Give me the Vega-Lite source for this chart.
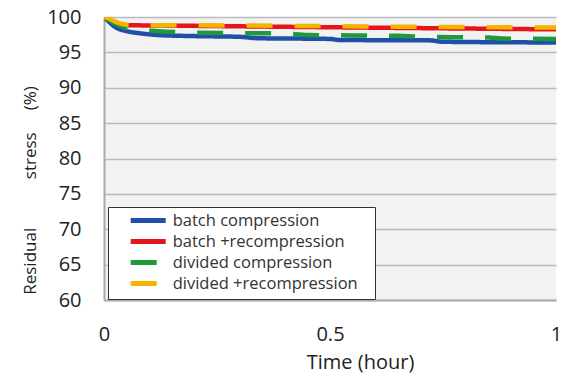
{
  "$schema": "https://vega.github.io/schema/vega-lite/v6.json",
  "width": 452,
  "height": 283,
  "autosize": {"type": "none"},
  "padding": {"left": 104, "top": 17, "right": 12, "bottom": 77},
  "background": "white",
  "config": {
    "view": {"fill": "#f2f2f2", "stroke": null},
    "font": "Open Sans",
    "axis": {"labelFont": "Open Sans", "titleFont": "Open Sans", "labelColor": "#222", "titleColor": "#222", "titleFontWeight": "normal"}
  },
  "data": {"values": [
    {"t": 0, "v": 100, "s": "batch compression"},
    {"t": 0.01, "v": 99.4, "s": "batch compression"},
    {"t": 0.02, "v": 98.8, "s": "batch compression"},
    {"t": 0.03, "v": 98.4, "s": "batch compression"},
    {"t": 0.05, "v": 98.0, "s": "batch compression"},
    {"t": 0.08, "v": 97.7, "s": "batch compression"},
    {"t": 0.12, "v": 97.45, "s": "batch compression"},
    {"t": 0.2, "v": 97.3, "s": "batch compression"},
    {"t": 0.3, "v": 97.2, "s": "batch compression"},
    {"t": 0.34, "v": 97.0, "s": "batch compression"},
    {"t": 0.5, "v": 96.9, "s": "batch compression"},
    {"t": 0.52, "v": 96.75, "s": "batch compression"},
    {"t": 0.72, "v": 96.7, "s": "batch compression"},
    {"t": 0.75, "v": 96.5, "s": "batch compression"},
    {"t": 1.0, "v": 96.4, "s": "batch compression"},
    {"t": 0, "v": 100, "s": "batch +recompression"},
    {"t": 0.01, "v": 99.7, "s": "batch +recompression"},
    {"t": 0.03, "v": 99.1, "s": "batch +recompression"},
    {"t": 0.05, "v": 98.85, "s": "batch +recompression"},
    {"t": 0.2, "v": 98.75, "s": "batch +recompression"},
    {"t": 0.5, "v": 98.55, "s": "batch +recompression"},
    {"t": 0.75, "v": 98.4, "s": "batch +recompression"},
    {"t": 1.0, "v": 98.25, "s": "batch +recompression"},
    {"t": 0, "v": 100, "s": "divided compression"},
    {"t": 0.01, "v": 99.6, "s": "divided compression"},
    {"t": 0.03, "v": 98.9, "s": "divided compression"},
    {"t": 0.06, "v": 98.3, "s": "divided compression"},
    {"t": 0.12, "v": 98.0, "s": "divided compression"},
    {"t": 0.2, "v": 97.8, "s": "divided compression"},
    {"t": 0.4, "v": 97.65, "s": "divided compression"},
    {"t": 0.45, "v": 97.45, "s": "divided compression"},
    {"t": 0.65, "v": 97.35, "s": "divided compression"},
    {"t": 0.7, "v": 97.2, "s": "divided compression"},
    {"t": 0.85, "v": 97.1, "s": "divided compression"},
    {"t": 0.88, "v": 96.95, "s": "divided compression"},
    {"t": 1.0, "v": 96.9, "s": "divided compression"},
    {"t": 0, "v": 100, "s": "divided +recompression"},
    {"t": 0.01, "v": 99.8, "s": "divided +recompression"},
    {"t": 0.03, "v": 99.2, "s": "divided +recompression"},
    {"t": 0.06, "v": 98.85, "s": "divided +recompression"},
    {"t": 0.3, "v": 98.8, "s": "divided +recompression"},
    {"t": 0.6, "v": 98.65, "s": "divided +recompression"},
    {"t": 1.0, "v": 98.5, "s": "divided +recompression"}
  ]},
  "mark": {"type": "line", "strokeWidth": 4.5, "strokeCap": "butt", "interpolate": "monotone", "clip": true},
  "encoding": {
    "x": {"field": "t", "type": "quantitative", "scale": {"domain": [0, 1], "nice": false},
      "axis": {"values": [0, 0.5, 1], "title": "Time (hour)", "grid": false, "ticks": false, "labelFontSize": 20, "titleFontSize": 20, "labelPadding": 24, "titleX": 256, "titleY": 68, "titleBaseline": "alphabetic", "titleAnchor": null, "titleAlign": "center", "domainColor": "#aaaaaa", "domainWidth": 2, "labelFlush": false, "format": "~g"}},
    "y": {"field": "v", "type": "quantitative", "scale": {"domain": [60, 100], "nice": false, "zero": false},
      "axis": {"values": [60, 65, 70, 75, 80, 85, 90, 95, 100], "title": "Residual\u00a0\u00a0\u00a0\u00a0\u00a0\u00a0\u00a0\u00a0\u00a0\u00a0\u00a0stress\u00a0\u00a0\u00a0\u00a0\u00a0(%)", "ticks": false, "labelFontSize": 20, "titleFontSize": 17, "labelPadding": 23, "titleX": -65, "titleY": 173, "titleAngle": -90, "titleAlign": "center", "titleBaseline": "bottom", "gridColor": "#bbbbbb", "gridWidth": 1.5, "domainColor": "#aaaaaa", "domainWidth": 2}},
    "color": {"field": "s", "type": "nominal",
      "scale": {"domain": ["batch compression", "batch +recompression", "divided compression", "divided +recompression"], "range": ["#1f4fa8", "#e8141c", "#1e9a3c", "#f5b400"]},
      "legend": {"title": null, "orient": "none", "legendX": 4, "legendY": 190, "symbolType": "M-3,0H3", "symbolSize": 136, "symbolStrokeWidth": 5, "labelFontSize": 16.5, "labelColor": "#333", "labelFont": "Open Sans", "labelLimit": 400, "fillColor": "white", "strokeColor": "#333", "padding": 5, "rowPadding": 0, "labelOffset": 16, "symbolOffset": 26.7, "labelExpr": "datum.label + '\u2800'",
        "encode": {"symbols": {"update": {"strokeDash": {"signal": "indexof(datum.value, 'divided') >= 0 ? [15, 6] : [1, 0]"}, "strokeCap": {"value": "butt"}}}}}},
    "strokeDash": {"field": "s", "type": "nominal",
      "scale": {"domain": ["batch compression", "batch +recompression", "divided compression", "divided +recompression"], "range": [[1, 0], [1, 0], [26, 22], [26, 22]]},
      "legend": null},
    "order": {"field": "t"}
  }
}
